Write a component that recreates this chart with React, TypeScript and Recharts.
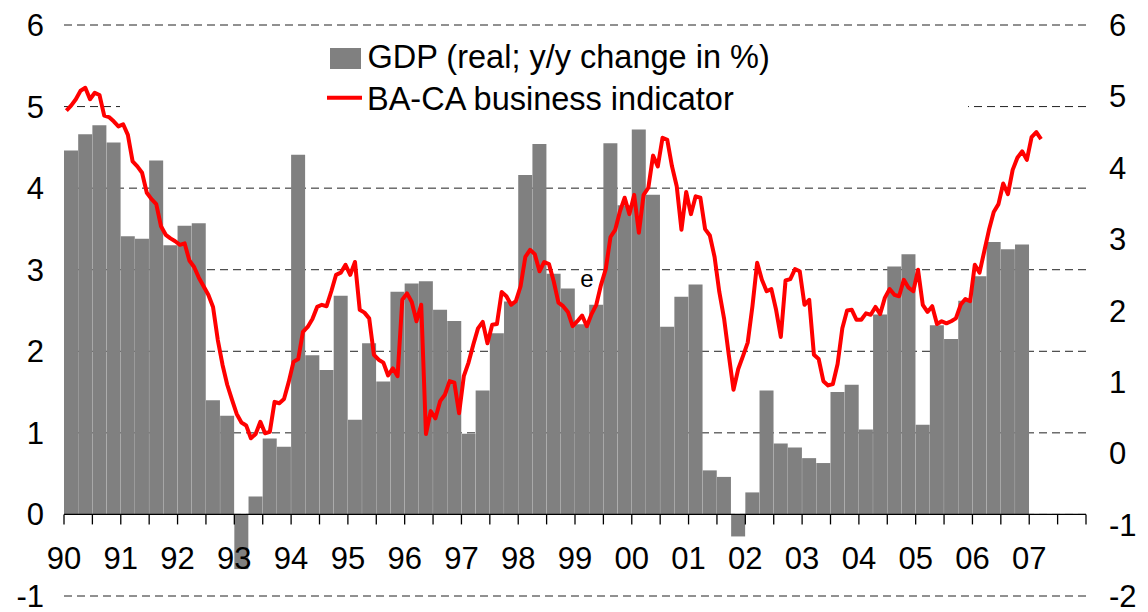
import React from "react";
import {
  ComposedChart,
  Bar,
  Line,
  XAxis,
  YAxis,
  CartesianGrid,
  ReferenceLine,
  Legend,
  LabelList,
} from "recharts";

const FONT = "'Liberation Sans', Arial, Helvetica, sans-serif";
const BAR_COLOR = "#808080";
const LINE_COLOR = "#ff0000";

const firstYear = 1990;
const lastYear = 2008;

const yearLabels = [
  "90", "91", "92", "93", "94", "95", "96", "97", "98",
  "99", "00", "01", "02", "03", "04", "05", "06", "07",
];

// GDP, real, y/y change in % (quarterly, 1990 Q1 - 2006 Q4)
const gdpGrowth = [
  4.46, 4.66, 4.77, 4.56,
  3.41, 3.38, 4.34, 3.3,
  3.54, 3.57, 1.4, 1.21,
  -0.67, 0.22, 0.93, 0.83,
  4.41, 1.95, 1.77, 2.68,
  1.16, 2.1, 1.63, 2.73,
  2.83, 2.86, 2.51, 2.37,
  0.99, 1.52, 2.22, 2.61,
  4.16, 4.54, 2.95, 2.77,
  2.33, 2.57, 4.55, 3.79,
  4.72, 3.92, 2.3, 2.67,
  2.82, 0.54, 0.46, -0.27,
  0.27, 1.52, 0.87, 0.82,
  0.69, 0.63, 1.5, 1.59,
  1.04, 2.45, 3.04, 3.19,
  1.1, 2.32, 2.15, 2.62,
  2.92, 3.34, 3.25, 3.31,
];

// quarter that carries the "e" (estimate) mark
const estimateQuarter = 36;

// BA-CA business indicator (monthly, Jan 1990 - Mar 2007)
const businessIndicator = [
  4.8, 4.87, 4.96, 5.08, 5.12, 4.96, 5.05, 5.02, 4.73, 4.71, 4.65, 4.58,
  4.61, 4.46, 4.09, 4.02, 3.93, 3.65, 3.56, 3.49, 3.18, 3.06, 3.01, 2.97,
  2.92, 2.94, 2.7, 2.61, 2.46, 2.34, 2.22, 2.05, 1.59, 1.24, 0.96, 0.75,
  0.55, 0.43, 0.39, 0.21, 0.27, 0.44, 0.28, 0.3, 0.72, 0.7, 0.76, 1.0,
  1.28, 1.32, 1.7, 1.77, 1.88, 2.05, 2.08, 2.06, 2.27, 2.5, 2.53, 2.64,
  2.5, 2.68, 2.01, 1.97, 1.89, 1.38, 1.31, 1.27, 1.09, 1.19, 1.08, 2.15,
  2.24, 2.12, 1.85, 2.08, 0.27, 0.59, 0.49, 0.73, 0.82, 1.01, 0.99, 0.56,
  1.08, 1.27, 1.52, 1.75, 1.84, 1.54, 1.8, 1.81, 2.26, 2.2, 2.08, 2.13,
  2.34, 2.75, 2.85, 2.79, 2.55, 2.68, 2.65, 2.41, 2.11, 2.06, 1.98, 1.78,
  1.85, 1.93, 1.78, 1.95, 2.08, 2.36, 2.58, 3.03, 3.13, 3.39, 3.58, 3.35,
  3.62, 3.09, 3.62, 3.72, 4.17, 4.02, 4.42, 4.39, 4.02, 3.74, 3.13, 3.66,
  3.35, 3.6, 3.58, 3.14, 3.05, 2.75, 2.26, 1.89, 1.38, 0.89, 1.18, 1.36,
  1.55, 2.06, 2.67, 2.43, 2.27, 2.3, 2.01, 1.63, 2.42, 2.44, 2.58, 2.55,
  2.08, 2.15, 1.38, 1.32, 1.01, 0.95, 0.97, 1.25, 1.75, 2.0, 2.01, 1.87,
  1.87, 1.96, 1.94, 2.05, 1.95, 2.18, 2.3, 2.22, 2.2, 2.43, 2.32, 2.27,
  2.57, 2.08, 1.98, 2.06, 1.81, 1.85, 1.82, 1.85, 1.89, 2.08, 2.16, 2.13,
  2.64, 2.53, 2.83, 3.13, 3.38, 3.49, 3.78, 3.63, 3.97, 4.14, 4.23, 4.11,
  4.43, 4.5, 4.4,
];

const leftTicks = [-1, 0, 1, 2, 3, 4, 5, 6];
const rightTicks = [-2, -1, 0, 1, 2, 3, 4, 5, 6];

const gdpName = "GDP (real; y/y change in %)";
const indicatorName = "BA-CA business indicator";

const quarterData = Array.from({ length: (lastYear - firstYear) * 4 }, (_, q) => ({
  q: `${firstYear + Math.floor(q / 4)}Q${(q % 4) + 1}`,
  gdp: q < gdpGrowth.length ? gdpGrowth[q] : null,
  note: q === estimateQuarter ? "e" : null,
}));

const monthData = businessIndicator.map((v, i) => ({
  t: firstYear + (i + 0.5) / 12,
  ind: v,
}));

const halfYearTicks = Array.from(
  { length: (lastYear - firstYear) * 2 + 1 },
  (_, i) => firstYear + i / 2
);

const W = 1148;
const H = 612;
const TOP = 25;
const X_AXIS_H = 16;
const PLOT_H = H - TOP - X_AXIS_H;
const LEFT_MIN = leftTicks[0];
const LEFT_MAX = leftTicks[leftTicks.length - 1];
// distance from the bottom of the plot up to the 0 line of the left axis
const ZERO_RISE = (PLOT_H * (0 - LEFT_MIN)) / (LEFT_MAX - LEFT_MIN);

const YearTick = (props: any) => {
  const { x, y, payload } = props;
  const zeroY = y - ZERO_RISE;
  const v = payload.value;
  const label = Number.isInteger(v) ? yearLabels[v - firstYear] : undefined;
  return (
    <g>
      <line x1={x} x2={x} y1={zeroY} y2={zeroY + 10} stroke="#000" strokeWidth={1.3} />
      {label && (
        <text x={x} y={zeroY + 55} textAnchor="middle" fontSize={31} fontFamily={FONT} fill="#000">
          {label}
        </text>
      )}
    </g>
  );
};

const EstimateMark = (props: any) => {
  const { x, y, width, value } = props;
  if (!value) return null;
  return (
    <text x={x + width * 0.85} y={y - 37} textAnchor="middle" fontSize={24} fontFamily={FONT} fill="#000">
      {value}
    </text>
  );
};

const LegendBox = () => (
  <svg width={848} height={85} style={{ display: "block" }}>
    <rect x={210} y={13} width={31} height={21} fill={BAR_COLOR} />
    <text x={247.5} y={33} fontSize={32.5} fontFamily={FONT} fill="#000">
      {gdpName}
    </text>
    <line x1={207} x2={242} y1={62.7} y2={62.7} stroke={LINE_COLOR} strokeWidth={4} />
    <text x={247} y={75} fontSize={32.5} fontFamily={FONT} fill="#000">
      {indicatorName}
    </text>
  </svg>
);

export default function App() {
  return (
    <div style={{ position: "absolute", left: 0, top: 0, background: "#fff" }}>
      <ComposedChart
        width={W}
        height={H}
        data={quarterData}
        margin={{ top: TOP, right: 0, bottom: 0, left: 0 }}
        barCategoryGap={0}
        barGap={0}
      >
        <CartesianGrid
          xAxisId="t"
          yAxisId="l"
          vertical={false}
          stroke="#222"
          strokeDasharray="8 5"
        />
        <XAxis
          xAxisId="t"
          dataKey="t"
          type="number"
          domain={[firstYear, lastYear]}
          ticks={halfYearTicks}
          interval={0}
          axisLine={false}
          tickLine={false}
          tickSize={0}
          tickMargin={0}
          height={X_AXIS_H}
          tick={<YearTick />}
        />
        <XAxis xAxisId="q" dataKey="q" hide height={0} />
        <YAxis
          yAxisId="l"
          domain={[LEFT_MIN, LEFT_MAX]}
          ticks={leftTicks}
          interval={0}
          width={64}
          axisLine={false}
          tickLine={false}
          tickSize={0}
          tickMargin={20}
          tick={{ fontSize: 31, fill: "#000", fontFamily: FONT }}
        />
        <YAxis
          yAxisId="r"
          orientation="right"
          domain={[rightTicks[0], rightTicks[rightTicks.length - 1]]}
          ticks={rightTicks}
          interval={0}
          width={62}
          axisLine={false}
          tickLine={false}
          tickSize={0}
          tickMargin={23}
          tick={{ fontSize: 31, fill: "#000", fontFamily: FONT, textAnchor: "start" }}
        />
        <Legend
          layout="vertical"
          align="center"
          verticalAlign="middle"
          wrapperStyle={{ left: 120, top: 35, width: 848, height: 85, background: "#fff" }}
          content={() => <LegendBox />}
        />
        <Bar
          xAxisId="q"
          yAxisId="l"
          dataKey="gdp"
          name={gdpName}
          fill={BAR_COLOR}
          isAnimationActive={false}
        >
          <LabelList dataKey="note" content={<EstimateMark />} />
        </Bar>
        <ReferenceLine xAxisId="t" yAxisId="l" y={0} stroke="#000" strokeWidth={1.3} />
        <Line
          xAxisId="t"
          yAxisId="r"
          data={monthData}
          dataKey="ind"
          name={indicatorName}
          type="linear"
          stroke={LINE_COLOR}
          strokeWidth={4}
          strokeLinejoin="round"
          dot={false}
          activeDot={false}
          isAnimationActive={false}
        />
      </ComposedChart>
    </div>
  );
}
